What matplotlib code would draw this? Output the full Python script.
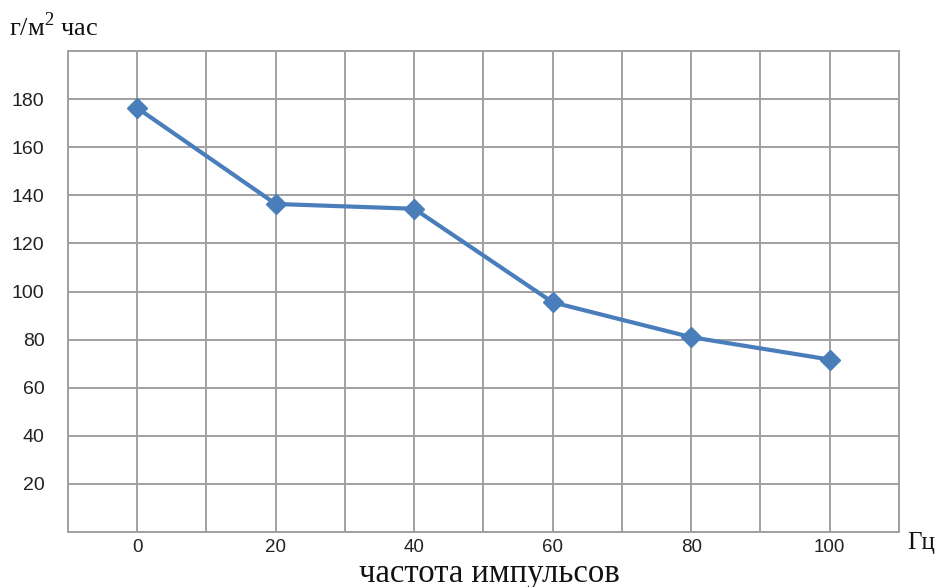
import matplotlib
matplotlib.use('Agg')
import matplotlib.pyplot as plt

plt.rcParams['mathtext.fontset'] = 'custom'
plt.rcParams['mathtext.rm'] = 'Liberation Serif'

# частота импульсов (Гц) и скорость (г/м² час)
freq = [0, 20, 40, 60, 80, 100]
rate = [176.3, 136.4, 134.4, 95.5, 81, 71.7]
yticks = [20, 40, 60, 80, 100, 120, 140, 160, 180]

BLUE = '#4a7ebb'
GRID = '#a0a0a0'

fig = plt.figure(figsize=(9.43, 5.87), dpi=100)
ax = fig.add_axes([0.0721, 0.0937, 0.8812, 0.8194])

ax.plot(freq, rate, color=BLUE, linewidth=3.0, marker='D', markersize=10.5,
        markerfacecolor=BLUE, markeredgecolor=BLUE, zorder=3)

ax.set_xlim(-10, 110)
ax.set_ylim(0, 200)
ax.set_xticks(freq)
ax.set_xticks(range(-10, 111, 10), minor=True)
ax.set_yticks(yticks)
ax.set_yticks(range(0, 201, 20), minor=True)

ax.grid(which='minor', color=GRID, linewidth=1.4)
ax.grid(which='major', color=GRID, linewidth=1.4)
ax.set_axisbelow(True)
for s in ax.spines.values():
    s.set_color(GRID)
    s.set_linewidth(1.4)

ax.tick_params(which='both', length=0)
ax.tick_params(axis='y', pad=17, labelsize=14, labelcolor='#222222')
ax.tick_params(axis='x', pad=5, labelsize=13.5, labelcolor='#222222')
for lab in ax.get_xticklabels() + ax.get_yticklabels():
    lab.set_fontfamily('Liberation Sans')

fig.text(0.519, 0.009, 'частота импульсов', family='Liberation Serif',
         fontsize=23.5, ha='center', va='baseline', color='#111111')
fig.text(0.962, 0.075, 'Гц', family='Liberation Serif', fontsize=18,
         ha='left', va='center', color='#111111')
fig.text(0.010, 0.955, 'г/м$^{2}$ час', family='Liberation Serif', fontsize=19,
         ha='left', va='center', color='#111111')

plt.savefig('out.png', dpi=100)
